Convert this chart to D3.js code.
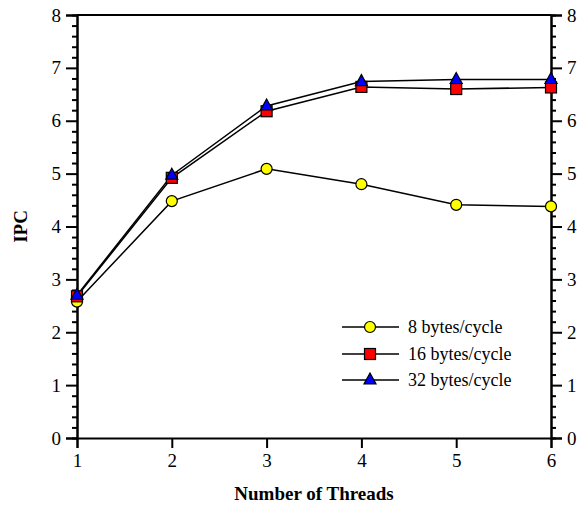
<!DOCTYPE html>
<html><head><meta charset="utf-8"><script src="https://cdn.jsdelivr.net/npm/d3@7"></script></head>
<body style="margin:0">
<svg id="s" width="581" height="507" font-family="Times New Roman, Times, serif"></svg>
<script>
// Thread counts on the x axis
const threads = [1, 2, 3, 4, 5, 6];
// IPC per fetch bandwidth
const ipc8 = [2.58, 4.48, 5.09, 4.80, 4.41, 4.38];
const ipc16 = [2.68, 4.92, 6.18, 6.64, 6.60, 6.63];
const ipc32 = [2.70, 4.97, 6.28, 6.74, 6.78, 6.78];
const seriesNames = ["8 bytes/cycle", "16 bytes/cycle", "32 bytes/cycle"];
const yTicks = [0, 1, 2, 3, 4, 5, 6, 7, 8];

const FONT = "Times New Roman, Times, serif";

const series = [
  { name: seriesNames[0], values: ipc8, shape: "circle", fill: "#ffff00" },
  { name: seriesNames[1], values: ipc16, shape: "square", fill: "#ff0000" },
  { name: seriesNames[2], values: ipc32, shape: "triangle", fill: "#0000ff" }
];

const svg = d3.select("#s");
const m = { left: 77, right: 551, top: 15, bottom: 438 };

const x = d3.scaleLinear().domain([1, 6]).range([m.left, m.right]);
const y = d3.scaleLinear().domain([0, 8]).range([m.bottom, m.top]);

// Top border of the frame
svg.append("line").attr("x1", m.left).attr("x2", m.right).attr("y1", m.top).attr("y2", m.top)
  .attr("stroke", "#000").attr("stroke-width", 2);

const minorTicks = d3.range(0, 8.001, 0.2).filter(v => Math.abs(v - Math.round(v)) > 1e-6);

// Left axis: minor then major ticks
const left = svg.append("g").attr("transform", `translate(${m.left},0)`);
left.call(d3.axisLeft(y).tickValues(minorTicks).tickSize(5).tickFormat(""));
left.append("g").call(d3.axisLeft(y).tickValues(yTicks).tickSize(11).tickPadding(5).tickFormat(d3.format("d")));

// Right axis: mirror of the left one
const right = svg.append("g").attr("transform", `translate(${m.right},0)`);
right.call(d3.axisRight(y).tickValues(minorTicks).tickSize(5).tickFormat(""));
right.append("g").call(d3.axisRight(y).tickValues(yTicks).tickSize(11).tickPadding(5).tickFormat(d3.format("d")));

// Bottom axis
const bottom = svg.append("g").attr("transform", `translate(0,${m.bottom})`);
bottom.call(d3.axisBottom(x).tickValues(threads).tickSize(10).tickPadding(6).tickFormat(d3.format("d")));

svg.selectAll("g").attr("font-family", FONT);
svg.selectAll(".domain").attr("stroke", "#000").attr("stroke-width", 2);
svg.selectAll(".tick line").attr("stroke", "#000").attr("stroke-width", 2);
svg.selectAll(".tick text").attr("font-family", FONT).attr("font-size", 19).attr("fill", "#000");

// Axis titles
svg.append("text").attr("font-family", FONT).attr("x", x(3.5)).attr("y", 500).attr("text-anchor", "middle")
  .attr("font-size", 19).attr("font-weight", "bold").text("Number of Threads");
svg.append("text").attr("font-family", FONT).attr("transform", `translate(27,${y(4)}) rotate(-90)`)
  .attr("text-anchor", "middle").attr("font-size", 19).attr("font-weight", "bold").text("IPC");

// Marker shapes per series
function marker(g, shape, fill) {
  if (shape === "circle") {
    g.append("circle").attr("r", 5.5).attr("fill", fill).attr("stroke", "#000").attr("stroke-width", 1.2);
  } else if (shape === "square") {
    g.append("rect").attr("x", -5.5).attr("y", -5.5).attr("width", 11).attr("height", 11)
      .attr("fill", fill).attr("stroke", "#000").attr("stroke-width", 1.2);
  } else {
    g.append("path").attr("d", "M0,-7L6,4L-6,4Z").attr("fill", fill)
      .attr("stroke", "#000").attr("stroke-width", 1.2);
  }
}

const line = d3.line().x((d, i) => x(threads[i])).y(d => y(d));

series.forEach(s => {
  svg.append("path").datum(s.values).attr("d", line)
    .attr("fill", "none").attr("stroke", "#000").attr("stroke-width", 1.5);
});
series.forEach(s => {
  s.values.forEach((v, i) => {
    const g = svg.append("g").attr("transform", `translate(${x(threads[i])},${y(v)})`);
    marker(g, s.shape, s.fill);
  });
});

// Legend
const legendRows = [327, 354, 380];
series.forEach((s, i) => {
  const g = svg.append("g").attr("transform", `translate(0,${legendRows[i]})`);
  g.append("line").attr("x1", 342).attr("x2", 399).attr("y1", 0).attr("y2", 0)
    .attr("stroke", "#000").attr("stroke-width", 1.5);
  const mg = g.append("g").attr("transform", "translate(370,0)");
  marker(mg, s.shape, s.fill);
  g.append("text").attr("font-family", FONT).attr("x", 408).attr("y", 6).attr("font-size", 18).text(s.name);
});
</script>
</body>
</html>
